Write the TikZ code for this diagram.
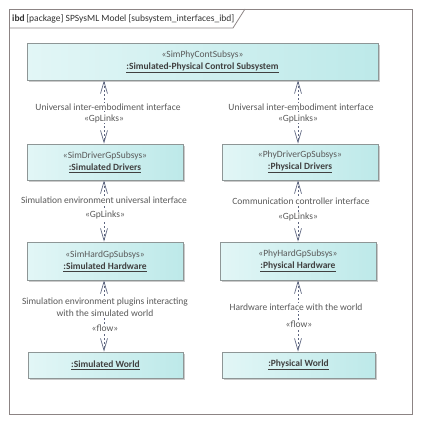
\documentclass[tikz,border=0pt]{standalone}
\usepackage{fontspec}
\setmainfont{Carlito}
\usetikzlibrary{arrows.meta,shadows}
\definecolor{boxL}{HTML}{E2F6F6}
\definecolor{boxR}{HTML}{BDE9E9}
\definecolor{boxB}{HTML}{8E9696}
\definecolor{lnk}{HTML}{5E6680}
\definecolor{txt}{HTML}{5A5A5A}
\definecolor{frm}{HTML}{8C8484}
\tikzset{
  part/.style={draw=boxB, line width=0.8pt, left color=boxL, right color=boxR, shading angle=90,
    drop shadow={shadow xshift=2pt, shadow yshift=-2pt, fill=black!35, opacity=0.6},
    align=center, text=txt, font=\fontsize{9.5}{11}\selectfont, inner sep=0pt},
  lnkline/.style={draw=lnk, line width=0.7pt, dash pattern=on 2pt off 2pt,
    {Straight Barb[length=12pt,width=7pt,line width=0.7pt]}-{Straight Barb[length=12pt,width=7pt,line width=0.7pt]}},
  lbl/.style={text=txt, fill=white, font=\fontsize{9.5}{12}\selectfont, align=center, inner sep=0.5pt},
}
\newcommand{\nm}[1]{\textcolor{black!75}{\textbf{\underline{#1}}}}
\begin{document}
\begin{tikzpicture}[x=1pt,y=-1pt]
\useasboundingbox (0,0) rectangle (421,423);
% frame
\draw[frm, line width=0.8pt] (9,9) rectangle (412,414);
\draw[frm, line width=0.8pt] (9,28) -- (233,28) -- (245,9);
\node[anchor=west, text=black!80, font=\fontsize{9.5}{11}\selectfont, inner sep=0pt] (title) at (12,18.5)
  {\textbf{ibd}\,[package] SPSysML Model [subsystem\_interfaces\_ibd]};
% boxes
\node[part, minimum width=351pt, minimum height=37pt] (top) at (202.5,61.5)
  {«SimPhyContSubsys»\\[1pt]\nm{:Simulated-Physical Control Subsystem}};
\node[part, minimum width=156pt, minimum height=36pt] (sd) at (105,162)
  {«SimDriverGpSubsys»\\[1pt]\nm{:Simulated Drivers}};
\node[part, minimum width=156pt, minimum height=36pt] (pd) at (300,162)
  {«PhyDriverGpSubsys»\\[1pt]\nm{:Physical Drivers}};
\node[part, minimum width=156pt, minimum height=38pt] (sh) at (105,261)
  {«SimHardGpSubsys»\\[1pt]\nm{:Simulated Hardware}};
\node[part, minimum width=156pt, minimum height=38pt] (ph) at (298,261)
  {«PhyHardGpSubsys»\\[1pt]\nm{:Physical Hardware}};
\node[part, minimum width=155pt, minimum height=26pt] (sw) at (105.5,365)
  {\nm{:Simulated World}};
\node[part, minimum width=153pt, minimum height=26pt] (pw) at (298.5,365)
  {\nm{:Physical World}};
% connectors
\draw[lnkline] (top.south -| 104,0) -- (sd.north -| 104,0);
\draw[lnkline] (top.south -| 298,0) -- (pd.north -| 298,0);
\draw[lnkline] (sd.south -| 104,0) -- (sh.north -| 104,0);
\draw[lnkline] (pd.south -| 298,0) -- (ph.north -| 298,0);
\draw[lnkline] (sh.south -| 104,0) -- (sw.north -| 104,0);
\draw[lnkline] (ph.south -| 298,0) -- (pw.north -| 298,0);
% labels
\node[lbl] (l1) at (108,107) {Universal inter-embodiment interface};
\node[lbl] (s1) at (104,118.5) {«GpLinks»};
\node[lbl] (l2) at (301,107) {Universal inter-embodiment interface};
\node[lbl] (s2) at (298,118.5) {«GpLinks»};
\node[lbl] (l3) at (104,200) {Simulation environment universal interface};
\node[lbl] (s3) at (105,215) {«GpLinks»};
\node[lbl] (l4) at (301,201) {Communication controller interface};
\node[lbl] (s4) at (298,217) {«GpLinks»};
\node[lbl] (l5) at (105,307) {Simulation environment plugins interacting\\with the simulated world};
\node[lbl] (s5) at (105,328) {«flow»};
\node[lbl] (l6) at (296,307) {Hardware interface with the world};
\node[lbl] (s6) at (299,324) {«flow»};
\end{tikzpicture}
\end{document}
